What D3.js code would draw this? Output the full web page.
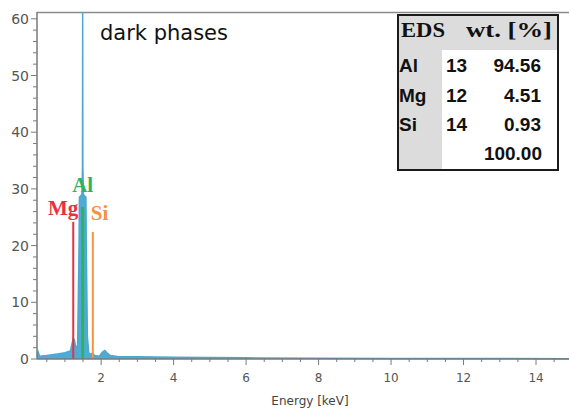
<!DOCTYPE html>
<html>
<head>
<meta charset="utf-8">
<script src="https://cdn.jsdelivr.net/npm/d3@7"></script>
<style>
  html, body { margin:0; padding:0; background:#fff; }
  svg { display:block; }
</style>
</head>
<body>
<div id="chart"></div>
<script>
// EDS spectrum (energy in keV, counts)
const energy = [0.23, 0.26, 0.3, 0.5, 0.8, 1.0, 1.15, 1.2, 1.23, 1.26, 1.3, 1.35, 1.39, 1.40, 1.47, 1.485, 1.49, 1.495, 1.51, 1.58, 1.59, 1.62, 1.66, 1.72, 1.76, 1.82, 1.95, 2.03, 2.1, 2.16, 2.25, 2.45, 3.0, 4.0, 6.0, 8.0, 10.0, 12.0, 14.91];
const counts = [0.6, 1.3, 0.5, 0.6, 0.9, 1.1, 1.4, 2.8, 3.6, 3.4, 2.0, 2.4, 20, 28.5, 29, 34, 61.2, 34, 29, 28.5, 20, 4, 1.0, 0.8, 1.0, 0.6, 0.5, 1.2, 1.5, 1.1, 0.6, 0.45, 0.4, 0.3, 0.2, 0.15, 0.1, 0.08, 0.05];

// element marker lines
const elements = ['Mg', 'Al', 'Si'];
const elementEnergy = [1.23, 1.49, 1.77];
const elementHeight = [24.2, 26.8, 22.4];
const elementColor = ['#e8323f', '#2db35d', '#f7913d'];

// EDS table
const tableElements = ['Al', 'Mg', 'Si'];
const tableZ = ['13', '12', '14'];
const tableWt = ['94.56', '4.51', '0.93'];
const tableTotal = '100.00';

const xTicks = [2, 4, 6, 8, 10, 12, 14];
const yTicks = [0, 10, 20, 30, 40, 50, 60];

const W = 569, H = 410;
const margin = { top:12, right:0, bottom:51, left:37 };

const svg = d3.select('#chart').append('svg').attr('width', W).attr('height', H);

const x = d3.scaleLinear().domain([0.23, 14.91]).range([margin.left, W - margin.right]);
const y = d3.scaleLinear().domain([0, 61.2]).range([H - margin.bottom, margin.top]);

// frame top line
svg.append('line')
  .attr('x1', margin.left).attr('x2', W)
  .attr('y1', margin.top + 0.5).attr('y2', margin.top + 0.5)
  .attr('stroke', '#8a8a8a').attr('stroke-width', 1.5);

// spectrum
const spec = energy.map((e, i) => ({ e, c: counts[i] }));
svg.append('path')
  .datum(spec)
  .attr('fill', '#46a7d2')
  .attr('fill-opacity', 0.95)
  .attr('d', d3.area().x(d => x(d.e)).y0(y(0)).y1(d => y(d.c)));
svg.append('path')
  .datum(spec)
  .attr('fill', 'none')
  .attr('stroke', '#4aa9d3')
  .attr('stroke-width', 1.5)
  .attr('d', d3.line().x(d => x(d.e)).y(d => y(d.c)));

// element lines + labels
const labelStyle = {
  Mg: { anchor:'end', dx:5, dy:-7 },
  Al: { anchor:'middle', dx:0, dy:-15 },
  Si: { anchor:'start', dx:-2, dy:-12 }
};
elements.forEach((el, i) => {
  const ex = x(elementEnergy[i]);
  svg.append('line')
    .attr('x1', ex).attr('x2', ex)
    .attr('y1', y(0)).attr('y2', y(elementHeight[i]))
    .attr('stroke', elementColor[i])
    .attr('stroke-width', el === 'Al' ? 3 : 2);
  const s = labelStyle[el];
  svg.append('text')
    .attr('x', ex + s.dx)
    .attr('y', y(elementHeight[i]) + s.dy)
    .attr('text-anchor', s.anchor)
    .attr('font-family', '"Liberation Serif", "DejaVu Serif", serif')
    .attr('font-weight', 'bold')
    .attr('font-size', 21)
    .attr('fill', elementColor[i])
    .text(el);
});

// axes
const axisColor = '#7a7a7a';
const xAxis = svg.append('g').attr('transform', `translate(0,${y(0)})`);
xAxis.append('line').attr('x1', margin.left).attr('x2', W).attr('stroke', axisColor).attr('stroke-width', 1.5);
xAxis.selectAll('.minor').data(d3.range(0.5, 14.91, 0.5)).join('line')
  .attr('x1', d => x(d)).attr('x2', d => x(d))
  .attr('y1', 0).attr('y2', d => d % 2 === 0 ? 6 : 3)
  .attr('stroke', axisColor).attr('stroke-width', 1);
xAxis.selectAll('text').data(xTicks).join('text')
  .attr('x', d => x(d)).attr('y', 23)
  .attr('text-anchor', 'middle')
  .attr('font-family', '"DejaVu Sans", sans-serif')
  .attr('font-size', 12)
  .attr('fill', '#555')
  .text(d => d);

const yAxis = svg.append('g').attr('transform', `translate(${margin.left},0)`);
yAxis.append('line').attr('y1', margin.top).attr('y2', y(0)).attr('stroke', axisColor).attr('stroke-width', 1.5);
yAxis.selectAll('.minor').data(d3.range(0, 61, 2)).join('line')
  .attr('y1', d => y(d)).attr('y2', d => y(d))
  .attr('x1', 0).attr('x2', d => d % 10 === 0 ? -6 : -4)
  .attr('stroke', axisColor).attr('stroke-width', 1);
yAxis.selectAll('text').data(yTicks).join('text')
  .attr('x', -8).attr('y', d => y(d) + 5)
  .attr('text-anchor', 'end')
  .attr('font-family', '"DejaVu Sans", sans-serif')
  .attr('font-size', 14)
  .attr('fill', '#555')
  .text(d => d);

svg.append('text')
  .attr('x', 310).attr('y', 405)
  .attr('text-anchor', 'middle')
  .attr('font-family', '"DejaVu Sans", sans-serif')
  .attr('font-size', 12)
  .attr('fill', '#444')
  .text('Energy [keV]');

// title
svg.append('text')
  .attr('x', 100).attr('y', 40)
  .attr('font-family', '"DejaVu Sans", sans-serif')
  .attr('font-size', 21)
  .attr('fill', '#111')
  .text('dark phases');

// EDS table
const tb = { x:398, y:15, w:160, h:155, head:35, col:44 };
const t = svg.append('g');
t.append('rect').attr('x', tb.x).attr('y', tb.y).attr('width', tb.w).attr('height', tb.h).attr('fill', '#fff');
t.append('rect').attr('x', tb.x).attr('y', tb.y).attr('width', tb.w).attr('height', tb.head).attr('fill', '#dcdcdc');
t.append('rect').attr('x', tb.x).attr('y', tb.y + tb.head).attr('width', tb.col).attr('height', tb.h - tb.head).attr('fill', '#dcdcdc');
t.append('rect').attr('x', tb.x).attr('y', tb.y).attr('width', tb.w).attr('height', tb.h)
  .attr('fill', 'none').attr('stroke', '#1a1a1a').attr('stroke-width', 2);

const serifBold = '"Liberation Serif", "DejaVu Serif", serif';
const sansBold = '"Liberation Sans", Arial, sans-serif';
t.append('text').attr('x', 401).attr('y', 37)
  .attr('textLength', 44).attr('lengthAdjust', 'spacingAndGlyphs')
  .attr('font-family', serifBold).attr('font-weight', 'bold').attr('font-size', 20).attr('fill', '#111').text('EDS');
t.append('text').attr('x', 466).attr('y', 37)
  .attr('textLength', 86).attr('lengthAdjust', 'spacingAndGlyphs')
  .attr('font-family', serifBold).attr('font-weight', 'bold').attr('font-size', 20).attr('fill', '#111').text('wt. [%]');

const rowY = d3.scalePoint().domain(tableElements).range([72, 131]);
tableElements.forEach((el, i) => {
  const ry = rowY(el);
  t.append('text').attr('x', 399).attr('y', ry).attr('font-family', sansBold).attr('font-weight', 'bold').attr('font-size', 19).attr('fill', '#111').text(el);
  t.append('text').attr('x', 446).attr('y', ry).attr('font-family', sansBold).attr('font-weight', 'bold').attr('font-size', 19).attr('fill', '#111').text(tableZ[i]);
  t.append('text').attr('x', 541).attr('y', ry).attr('text-anchor', 'end').attr('font-family', sansBold).attr('font-weight', 'bold').attr('font-size', 19).attr('fill', '#111').text(tableWt[i]);
});
t.append('text').attr('x', 542).attr('y', 160).attr('text-anchor', 'end').attr('font-family', sansBold).attr('font-weight', 'bold').attr('font-size', 19).attr('fill', '#111').text(tableTotal);
</script>
</body>
</html>
